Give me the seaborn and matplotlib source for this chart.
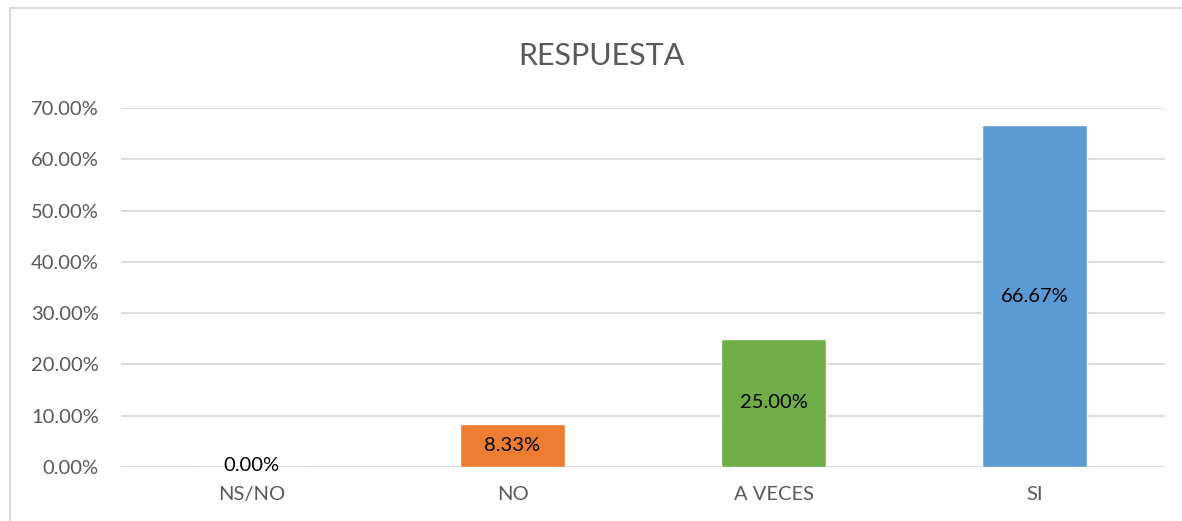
import numpy as np
import pandas as pd
import seaborn as sns
import matplotlib.pyplot as plt
from matplotlib.patches import Rectangle

categorias = ['NS/NO', 'NO', 'A VECES', 'SI']
porcentajes = [0.00, 8.33, 25.00, 66.67]
colores = ['#4472C4', '#ED7D31', '#70AD47', '#5B9BD5']
yticks = [0, 10, 20, 30, 40, 50, 60, 70]

sns.set_style('white')
plt.rcParams['font.family'] = ['Lato', 'DejaVu Sans']

df = pd.DataFrame({'Respuesta': categorias, 'Porcentaje': porcentajes})

fig = plt.figure(figsize=(11.82, 5.21), dpi=100)
ax = fig.add_axes([0.1024, 0.1036, 0.8832, 0.6891])

sns.barplot(data=df, x='Respuesta', y='Porcentaje', hue='Respuesta',
            palette=colores, width=0.4, legend=False, ax=ax, saturation=1)

ax.set_ylim(0, 70)
ax.set_xlim(-0.5, 3.5)
ax.set_yticks(yticks)
ax.set_yticklabels([f'{v:.2f}%' for v in yticks])
ax.grid(axis='y', color='#d9d9d9', linewidth=1.3)
ax.set_axisbelow(True)
for s in ax.spines.values():
    s.set_visible(False)
ax.tick_params(axis='both', length=0, labelsize=14.5, colors='#595959')
ax.tick_params(axis='x', pad=14)
ax.tick_params(axis='y', pad=16)
ax.set_xlabel('')
ax.set_ylabel('')

# etiquetas de datos centradas en la barra
for i, v in enumerate(porcentajes):
    ax.text(i, max(v / 2, 0.3), f'{v:.2f}%', ha='center', va='center',
            fontsize=14.5, color='black')

fig.text(0.509, 0.892, 'RESPUESTA', ha='center', va='center', fontsize=22, color='#595959')

# borde del área del gráfico
fig.patches.append(Rectangle((10 / 1182, -0.1), 1.2, 1 - 8 / 521 + 0.1,
                             transform=fig.transFigure, fill=False,
                             edgecolor='#d9d9d9', linewidth=1.5))

fig.savefig('out.png', dpi=100)
